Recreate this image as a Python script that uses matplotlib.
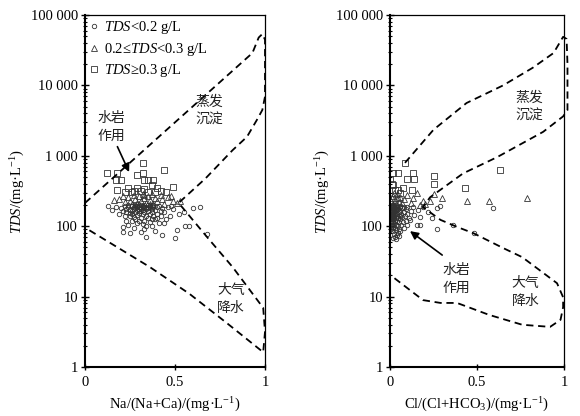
import matplotlib
matplotlib.use('Agg')
import matplotlib.pyplot as plt
from matplotlib.lines import Line2D
from matplotlib.ticker import LogLocator, FixedLocator, NullFormatter

plt.rcParams['font.family'] = ['Liberation Serif', 'DejaVu Serif']
plt.rcParams['mathtext.fontset'] = 'custom'
plt.rcParams['mathtext.rm'] = 'Liberation Serif'
plt.rcParams['mathtext.it'] = 'Liberation Serif:italic'

# ---- dati: pannello sinistro Na/(Na+Ca) ----
na_c_x = [0.13, 0.64, 0.555, 0.58, 0.68, 0.50, 0.51, 0.43, 0.34, 0.25, 0.21, 0.21, 0.23, 0.31, 0.37,
          0.37, 0.60, 0.55, 0.17, 0.15, 0.19, 0.27, 0.29, 0.33, 0.39, 0.41, 0.45, 0.47, 0.52, 0.49,
          0.44, 0.22, 0.24, 0.25, 0.26, 0.27, 0.28, 0.28, 0.29, 0.29, 0.30, 0.30, 0.30, 0.31, 0.31,
          0.32, 0.32, 0.32, 0.33, 0.33, 0.34, 0.34, 0.34, 0.35, 0.35, 0.36, 0.36, 0.37, 0.37, 0.38,
          0.38, 0.39, 0.40, 0.40, 0.41, 0.42, 0.43, 0.23, 0.26, 0.27, 0.29, 0.31, 0.33, 0.35, 0.36,
          0.39, 0.26, 0.24, 0.28, 0.32, 0.34, 0.30, 0.25, 0.20, 0.21, 0.22, 0.27, 0.31, 0.33, 0.35,
          0.38, 0.28, 0.24, 0.46, 0.48, 0.42, 0.40, 0.44, 0.26, 0.29, 0.30, 0.32, 0.36, 0.37, 0.25, 0.23]
na_c_y = [195, 190, 102, 102, 78, 68, 87, 74, 70, 80, 83, 98, 120, 83, 102,
          128, 180, 160, 190, 170, 150, 95, 110, 90, 85, 110, 125, 140, 150, 175,
          160, 140, 185, 170, 192, 178, 160, 195, 185, 170, 190, 175, 155, 182, 165,
          195, 172, 150, 185, 160, 190, 175, 140, 182, 165, 195, 150, 178, 160, 188,
          140, 170, 185, 150, 195, 165, 180, 160, 150, 135, 145, 130, 120, 130, 115,
          125, 120, 105, 125, 108, 100, 118, 140, 180, 165, 195, 188, 198, 198, 198,
          198, 198, 198, 190, 195, 140, 130, 110, 165, 192, 165, 185, 185, 192, 155, 175]
na_t_x = [0.16, 0.19, 0.22, 0.24, 0.25, 0.27, 0.28, 0.29, 0.30, 0.31, 0.32, 0.33, 0.34, 0.35, 0.36, 0.37,
          0.38, 0.39, 0.40, 0.42, 0.43, 0.44, 0.46, 0.48, 0.49, 0.51, 0.53, 0.21, 0.26, 0.33, 0.30, 0.36]
na_t_y = [235, 245, 220, 260, 230, 280, 245, 215, 265, 230, 290, 250, 215, 270, 235, 285,
          210, 255, 225, 275, 240, 210, 260, 270, 230, 215, 225, 265, 205, 275, 205, 205]
na_s_x = [0.12, 0.18, 0.17, 0.20, 0.29, 0.32, 0.32, 0.44, 0.33, 0.35, 0.38, 0.18, 0.24, 0.29,
          0.37, 0.40, 0.49, 0.27, 0.31, 0.33, 0.35, 0.42, 0.45, 0.22, 0.39, 0.26]
na_s_y = [570, 570, 460, 460, 540, 570, 780, 620, 460, 460, 460, 330, 350, 350,
          390, 350, 360, 320, 320, 340, 310, 320, 305, 310, 305, 305]

# ---- dati: pannello destro Cl/(Cl+HCO3) ----
cl_c_x = [0.005, 0.005, 0.005, 0.005, 0.005, 0.005, 0.008, 0.008, 0.008, 0.01, 0.01, 0.01, 0.01, 0.01,
          0.012, 0.012, 0.012, 0.015, 0.015, 0.015, 0.015, 0.018, 0.018, 0.018, 0.02, 0.02, 0.02, 0.02,
          0.02, 0.022, 0.022, 0.025, 0.025, 0.025, 0.025, 0.025, 0.028, 0.028, 0.03, 0.03, 0.03, 0.03,
          0.03, 0.033, 0.033, 0.035, 0.035, 0.035, 0.038, 0.038, 0.04, 0.04, 0.04, 0.043, 0.043, 0.045,
          0.045, 0.048, 0.05, 0.05, 0.05, 0.055, 0.055, 0.06, 0.06, 0.065, 0.065, 0.07, 0.07, 0.075,
          0.08, 0.08, 0.085, 0.09, 0.09, 0.10, 0.10, 0.11, 0.115, 0.12, 0.14, 0.155, 0.17, 0.17, 0.19,
          0.27, 0.27, 0.29, 0.36, 0.48, 0.59, 0.06, 0.13, 0.22, 0.24, 0.16, 0.05, 0.02, 0.035, 0.045,
          0.008, 0.06, 0.08, 0.10]
cl_c_y = [195, 175, 160, 140, 125, 110, 185, 150, 130, 198, 170, 145, 120, 100,
          190, 160, 135, 180, 155, 115, 95, 195, 165, 140, 185, 150, 125, 105,
          85, 172, 130, 195, 160, 140, 110, 78, 180, 120, 190, 165, 145, 95,
          70, 175, 130, 155, 105, 88, 185, 140, 170, 120, 75, 195, 150, 130,
          100, 175, 160, 115, 90, 185, 140, 125, 165, 105, 150, 180, 135, 115,
          160, 95, 140, 120, 175, 150, 105, 130, 123, 165, 145, 105, 105, 135, 185,
          90, 180, 195, 105, 80, 180, 85, 190, 160, 130, 170, 72, 68, 65, 80,
          90, 195, 190, 185]
cl_t_x = [0.30, 0.23, 0.25, 0.44, 0.57, 0.79, 0.155, 0.17, 0.13, 0.10, 0.08, 0.06, 0.05, 0.04,
          0.03, 0.02, 0.015, 0.01, 0.035, 0.07, 0.12, 0.19, 0.20, 0.005, 0.045, 0.025]
cl_t_y = [255, 225, 290, 225, 225, 255, 295, 200, 250, 275, 240, 260, 220, 285,
          235, 270, 210, 250, 205, 215, 215, 230, 205, 230, 250, 295]
cl_s_x = [0.086, 0.02, 0.045, 0.13, 0.10, 0.14, 0.25, 0.25, 0.63, 0.43, 0.075, 0.125, 0.045, 0.0,
          0.01, 0.03, 0.02, 0.06]
cl_s_y = [790, 570, 570, 570, 470, 470, 510, 400, 620, 350, 350, 325, 325, 470,
          400, 330, 380, 300]

# contorni di Gibbs (x, log10 TDS)
na_bx = [0.0, 0.93, 0.965, 0.985, 1.0, 1.0, 0.985, 0.955, 0.90, 0.82, 0.67, 0.52,
         0.53, 0.68, 0.82, 0.99, 1.0, 0.99, 0.79, 0.58, 0.36, 0.18, 0.0]
na_by = [2.33, 4.46, 4.68, 4.73, 4.65, 3.84, 3.65, 3.51, 3.27, 3.08, 2.68, 2.33,
         2.30, 1.84, 1.42, 0.84, 0.50, 0.21, 0.62, 1.04, 1.42, 1.70, 1.98]
cl_bx = [0.086, 0.25, 0.44, 0.65, 0.82, 0.94, 0.995, 1.015, 1.02, 1.02, 0.995, 0.88, 0.615, 0.42,
         0.23, 0.19, 0.29, 0.385, 0.48, 0.65, 0.76, 0.96, 0.995, 0.995, 0.98, 0.92, 0.76, 0.57,
         0.385, 0.29, 0.19, 0.10, 0.0]
cl_by = [2.90, 3.37, 3.75, 4.00, 4.25, 4.46, 4.69, 4.66, 4.30, 3.65, 3.56, 3.34, 2.98, 2.75,
         2.41, 2.27, 2.09, 1.99, 1.90, 1.69, 1.56, 1.19, 0.99, 0.85, 0.67, 0.57, 0.60, 0.74,
         0.91, 0.91, 0.95, 1.12, 1.31]

ytick_vals = [1, 10, 100, 1000, 10000, 100000]
ytick_labels = ['1', '10', '100', '1 000', '10 000', '100 000']
xtick_vals = [0, 0.5, 1]
xtick_labels = ['0', '0.5', '1']

cjk = ['Noto Sans CJK SC', 'DejaVu Sans']
mec = '#333333'

fig = plt.figure(figsize=(5.8, 4.16), dpi=100)
ax1 = fig.add_axes([85/580, 49/416, 180/580, 352/416])
ax2 = fig.add_axes([390/580, 49/416, 174/580, 352/416])


def style(ax, xlabel):
    ax.set_yscale('log')
    ax.set_xlim(0, 1)
    ax.set_ylim(1, 100000)
    ax.yaxis.set_major_locator(FixedLocator(ytick_vals))
    ax.set_yticklabels(ytick_labels)
    ax.yaxis.set_minor_locator(LogLocator(base=10, subs=range(2, 10), numticks=20))
    ax.yaxis.set_minor_formatter(NullFormatter())
    ax.set_xticks(xtick_vals)
    ax.set_xticklabels(xtick_labels)
    ax.tick_params(axis='y', which='major', direction='inout', length=6, width=1, labelsize=10.5, pad=2)
    ax.tick_params(axis='y', which='minor', direction='inout', length=3.5, width=0.8)
    ax.tick_params(axis='x', which='major', direction='inout', length=5, width=1, labelsize=10.5, pad=4)
    for s in ['left', 'bottom']:
        ax.spines[s].set_linewidth(1.5)
    for s in ['top', 'right']:
        ax.spines[s].set_linewidth(0.9)
    ax.set_ylabel(r'$TDS$/(mg·L$^{-1}$)', fontsize=10.5, labelpad=3)
    ax.set_xlabel(xlabel, fontsize=10.5, labelpad=5)


def scatter(ax, cx, cy, tx, ty, sx, sy):
    ax.plot(cx, cy, 'o', ms=3.2, mfc='none', mec=mec, mew=0.6, ls='none')
    ax.plot(tx, ty, '^', ms=5, mfc='none', mec=mec, mew=0.6, ls='none')
    ax.plot(sx, sy, 's', ms=4.6, mfc='none', mec=mec, mew=0.6, ls='none')


def bound(ax, bx, by):
    ax.plot(bx, [10 ** v for v in by], color='black', lw=1.3, ls=(0, (4, 2.6)), clip_on=False)


# pannello sinistro
scatter(ax1, na_c_x, na_c_y, na_t_x, na_t_y, na_s_x, na_s_y)
bound(ax1, na_bx, na_by)
style(ax1, r'Na/(Na+Ca)/(mg·L$^{-1}$)')
ax1.text(0.69, 10 ** 3.64, '蒸发\n沉淀', family=cjk, fontsize=10, color='#222222',
         ha='center', va='center', linespacing=1.35)
ax1.text(0.145, 10 ** 3.41, '水岩\n作用', family=cjk, fontsize=10, color='#222222',
         ha='center', va='center', linespacing=1.35)
ax1.text(0.81, 10 ** 0.96, '大气\n降水', family=cjk, fontsize=10, color='#222222',
         ha='center', va='center', linespacing=1.35)
ax1.annotate('', xy=(0.245, 10 ** 2.77), xytext=(0.18, 10 ** 3.13),
             arrowprops=dict(arrowstyle='-|>', color='black', lw=1.2, mutation_scale=12,
                             shrinkA=0, shrinkB=0))

handles = [Line2D([], [], marker='o', ls='none', ms=3.2, mfc='none', mec=mec, mew=0.6),
           Line2D([], [], marker='^', ls='none', ms=5, mfc='none', mec=mec, mew=0.6),
           Line2D([], [], marker='s', ls='none', ms=4.6, mfc='none', mec=mec, mew=0.6)]
labels = [r'$TDS$<0.2 g/L', r'0.2≤$TDS$<0.3 g/L', r'$TDS$≥0.3 g/L']
ax1.legend(handles, labels, loc='upper left', frameon=False, fontsize=10.5,
           handlelength=0.6, handletextpad=0.4, labelspacing=0.3,
           borderaxespad=0.1, borderpad=0.2)

# pannello destro
scatter(ax2, cl_c_x, cl_c_y, cl_t_x, cl_t_y, cl_s_x, cl_s_y)
bound(ax2, cl_bx, cl_by)
style(ax2, r'Cl/(Cl+HCO$_3$)/(mg·L$^{-1}$)')
ax2.text(0.80, 10 ** 3.69, '蒸发\n沉淀', family=cjk, fontsize=10, color='#222222',
         ha='center', va='center', linespacing=1.35)
ax2.text(0.38, 10 ** 1.25, '水岩\n作用', family=cjk, fontsize=10, color='#222222',
         ha='center', va='center', linespacing=1.35)
ax2.text(0.78, 10 ** 1.06, '大气\n降水', family=cjk, fontsize=10, color='#222222',
         ha='center', va='center', linespacing=1.35)
ax2.annotate('', xy=(0.115, 10 ** 1.93), xytext=(0.30, 10 ** 1.59),
             arrowprops=dict(arrowstyle='-|>', color='black', lw=1.2, mutation_scale=12,
                             shrinkA=0, shrinkB=0))

fig.savefig('out.png', dpi=100)
